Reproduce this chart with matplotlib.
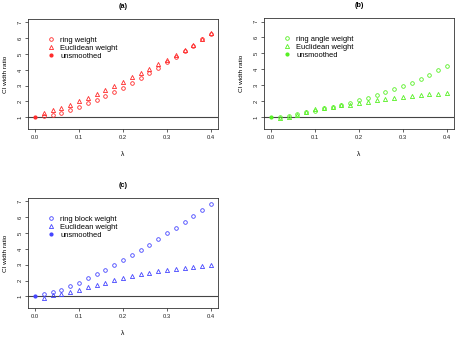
import matplotlib
matplotlib.use("Agg")
import matplotlib.pyplot as plt
import numpy as np

# lambda grid shared by all panels
lam = [0.00, 0.02, 0.04, 0.06, 0.08, 0.10, 0.12, 0.14, 0.16, 0.18, 0.20,
       0.22, 0.24, 0.26, 0.28, 0.30, 0.32, 0.34, 0.36, 0.38, 0.40]

# (a) ring weight vs Euclidean weight
ring_a = [1.00, 1.08, 1.15, 1.30, 1.48, 1.65, 1.88, 2.10, 2.37, 2.62, 2.87,
          3.19, 3.46, 3.80, 4.10, 4.47, 4.81, 5.17, 5.53, 5.93, 6.30]
eucl_a = [1.00, 1.25, 1.45, 1.60, 1.80, 2.03, 2.24, 2.47, 2.73, 2.98, 3.25,
          3.53, 3.78, 4.05, 4.35, 4.60, 4.92, 5.25, 5.60, 5.95, 6.32]
unsm_a = 1.00

# (b) ring angle weight vs Euclidean weight
ring_b = [1.02, 1.04, 1.10, 1.23, 1.32, 1.42, 1.57, 1.63, 1.74, 1.86, 2.05,
          2.20, 2.37, 2.56, 2.75, 2.94, 3.17, 3.40, 3.67, 3.95, 4.24]
eucl_b = [1.02, 0.95, 1.00, 1.13, 1.32, 1.50, 1.60, 1.67, 1.74, 1.78, 1.86,
          1.95, 2.05, 2.12, 2.20, 2.26, 2.33, 2.37, 2.43, 2.47, 2.52]
unsm_b = 1.02

# (c) ring block weight vs Euclidean weight
ring_c = [1.03, 1.17, 1.30, 1.42, 1.63, 1.86, 2.13, 2.40, 2.68, 2.97, 3.28,
          3.60, 3.96, 4.27, 4.63, 4.98, 5.34, 5.72, 6.07, 6.45, 6.85]
eucl_c = [1.03, 0.90, 1.06, 1.17, 1.25, 1.40, 1.57, 1.71, 1.86, 2.03, 2.17,
          2.30, 2.38, 2.49, 2.60, 2.66, 2.74, 2.80, 2.84, 2.91, 2.97]
unsm_c = 1.03

panels = [
    ("(a)", "ring weight", ring_a, eucl_a, unsm_a, "#FF2A2A",
     [28, 19, 218, 129]),
    ("(b)", "ring angle weight", ring_b, eucl_b, unsm_b, "#55F022",
     [264, 18, 454, 129]),
    ("(c)", "ring block weight", ring_c, eucl_c, unsm_c, "#4545FF",
     [28, 198, 218, 308]),
]

W, H = 455, 340
fig = plt.figure(figsize=(W / 100, H / 100), dpi=100)
plt.rcParams["font.family"] = ["Liberation Sans", "DejaVu Sans"]

for title, ring_label, ring, eucl, unsm, col, box in panels:

    x0, y0, x1, y1 = box
    ax = fig.add_axes([x0 / W, 1 - y1 / H, (x1 - x0) / W, (y1 - y0) / H])

    ax.axhline(1, color="#444444", linewidth=0.8, zorder=1)

    x = np.array(lam)
    ax.plot(x[1:], ring[1:], linestyle="none", marker="o", markersize=2.6,
            markerfacecolor="none", markeredgecolor=col, markeredgewidth=0.6,
            label=ring_label)
    ax.plot(x[1:], eucl[1:], linestyle="none", marker="^", markersize=3.0,
            markerfacecolor="none", markeredgecolor=col, markeredgewidth=0.6,
            label="Euclidean weight")
    ax.plot([0.0], [unsm], linestyle="none", marker="o", markersize=2.0,
            color=col, label="unsmoothed")

    ax.set_xlim(-0.016, 0.416)
    ax.set_ylim(0.26, 7.22)
    ax.set_xticks([0.0, 0.1, 0.2, 0.3, 0.4])
    ax.set_xticklabels(["0.0", "0.1", "0.2", "0.3", "0.4"])
    ax.set_yticks(range(1, 8))
    ax.tick_params(labelsize=4.2, length=2, width=0.5, pad=2, colors="#222222")
    for lab in ax.get_yticklabels():
        lab.set_rotation(90)
        lab.set_va("center")

    for spine in ax.spines.values():
        spine.set_linewidth(0.6)
        spine.set_color("#333333")

    ax.set_title(title, fontsize=5.2, fontweight="bold", pad=8)
    ax.set_xlabel("λ", fontsize=4.8, labelpad=8)
    ax.set_ylabel("CI width ratio", fontsize=4.6, labelpad=7)

    ax.legend(loc="upper left", bbox_to_anchor=(0.07, 0.89), frameon=False,
              fontsize=5.4, handletextpad=0.6, labelspacing=0.12,
              borderpad=0.2, handlelength=1.2)

fig.savefig("out.png", dpi=100)
